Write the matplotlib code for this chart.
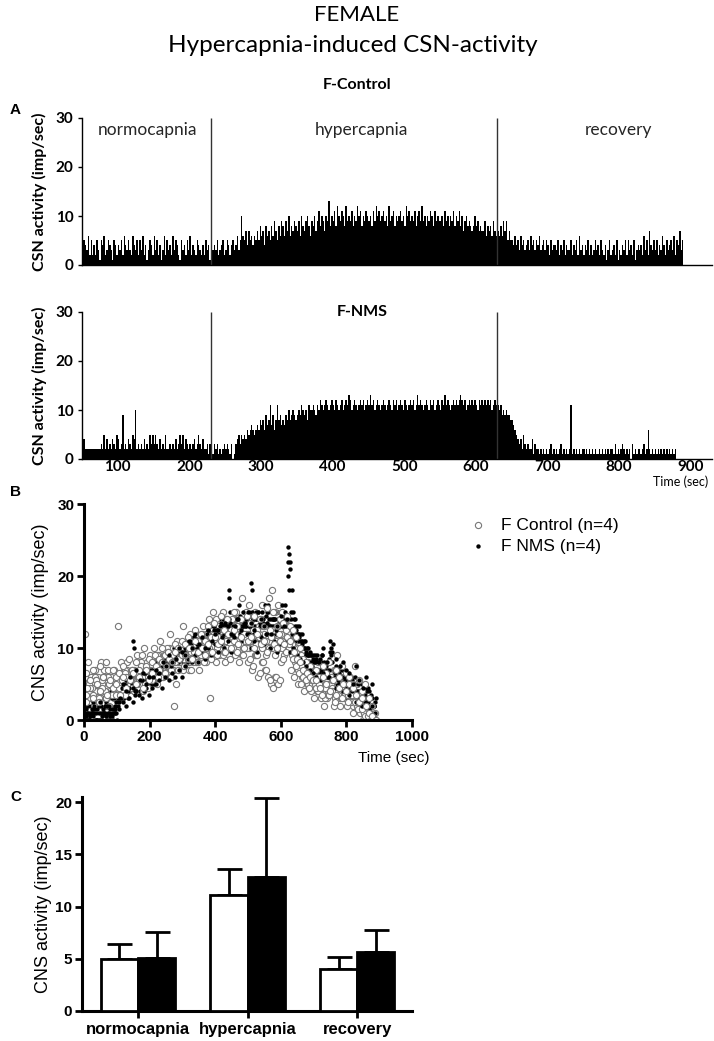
import numpy as np
import matplotlib.pyplot as plt

plt.rcParams['font.family'] = ['Liberation Sans', 'DejaVu Sans']
CAL = ['Lato', 'DejaVu Sans']

# --- panel A: CSN firing histograms, 2 s bins from 50 s, one base-36 digit per bin (imp/sec)
bin_start = 50
bin_width = 2
control_hist = (
    "3543625242 5315462354 3154243526 4353264352 5362413542 6352413625 3426354215 3425362432 5432425341 "
    "2343523452 3542453463 5a65747564 6575867486 7586975869 8697a68798 796a879a86 98a79b8a97 a9d8a9b8ca "
    "9ba8c9a9b8 a9cab8a9ba 9a8b9cab9a b9a8c9ab8a 9ab9a8cab9 a9b8ab9c9a 8a9ba8b9a9 9a8b9a8a9b 8a9b8a79a8 "
    "9878a89787 7968786976 7686979575 5464536453 4536453546 3453542534 4352435243 3524352634 2435242353 "
    "4253241352 3425132435 2534251343 4263527435 3524364253 4536254735"
)
nms_hist = (
    "4422222222 2223252423 2432542392 3243254a23 2324232535 3532423252 2323242353 5243232342 3532422313 "
    "2132312123 2321301345 3545465676 5676878697 8b7968b897 8798a89a98 9a9ba9a8ba aba9bacbab cbabcbacba "
    "bcabcbdcab cbabcbcabc bdbcabcbab cbabcbacbc abcbacbabc bcabdbcbab cbacbcabcb acbdbcbabc bcbcdcbcab "
    "cbcbcbacbc bcbcbcabcb bab9a9a998 8765434253 2322413221 2121212312 1212312121 2b12121212 2121212121 "
    "1212121212 2131212321 2120312122 1231262121 2121212121 21212"
)
phase_bounds = [230, 630]
phase_names = ['normocapnia', 'hypercapnia', 'recovery']
phase_label_x = [141, 441, 800]
hist_ticks = [100, 200, 300, 400, 500, 600, 700, 800, 900]

# --- panel B: traces sampled every 10 s; value = index in SCAT_KEY / 2
SCAT_KEY = '0123456789abcdefghijklmnopqrstuvwxyzABCDEFGHIJKLMNOPQRSTUVWXYZ'
sample_step = 10
control_traces = [
    "8a6c8ae68a ac8eacagce egciegkeig ikgmkiokmo mokqmosoqm oqmosoqmoq oqsmkigecc cac8a8a868 684642000",
    "46a48684a6 86a8c8ac8a acaecgceag egeigeigki gikgikigik geicgecaca gikecaa8a8 6864684646 462420000",
    "cgceagcece qgegceigkg ikimikokmk qmokomqosu squsosuqyu wsuqwsyAuw usqomkigge egceaceiac ac8a68420",
    "o8a8ca8ca8 caeac8caec cegceig4gi kimgkmko6m mkomqkomko kmiokimkik kmoigeccaa a8a68a68c8 866442000",
    "7a9c6b8a79 b8dbeadfbc cgfhejegil hkjljmkmio kniplqmlon mplnqmkpmo mpkljhfdcb bc9a79b797 757532100",
    "5a7b5964a7 9b7c9dbca9 bdcfdhcgei fhejgigkhj iljkhmjlik hfidgeb9cb hjlhfdcb9b 9a79785969 575331100",
    "d9ebfcgaec dfchegeifh gihkijilkm lnkpmomqnr ntpspuqsot rtpsqvpuqs rtqpnkhgfd ecfdgbecfd cafb8a642",
    "9b6a8c7b9a 7c9bdac9eb dfegfhgjhi ikhmjkiljn lmjokplnkm nkolmjnlkm lnmjhgedcb b9ca8b79a8 a97564210",
]
nms_traces = [
    "2042062402 686a8ma8ca ceaegcgieg ikimkomkom oqosAqsoqu sCqusqusqs uqMsomkigg eceacmca8a 8a6868462",
    "6284a26486 8a8cakcaec ecgeigeiki kmkomkqomq qsoqysowsq uAsquswusu swIuqomkii gegceieca8 a88686644",
    "0420642042 4686a8ca8a acecegiggk gikimkmomo moqosoqsoq qusoqwqouq quEAsoomki igegcgeeca 6a846a864",
    "4026204264 68a8caacac cacgeegkii igmkkomqqo omsquomqus osumsosqos wsAomqmkig geiegkcac8 86a648624",
    "1030415213 5779a7b9ba bdcedgfhgi jlkmlnmomp nqoprqsoqr qsprqtpsqr rtKqomligf edfcegdbcb 9b7a69574",
    "3152031425 79b9d8cbdc egdfhgiijh kmlnkompnq prqsouqtrs tosqruqspr sqGupnkjih hgifhjfdec b9c8a7965",
    "0213021302 3546587697 9ab9cbdcec fhgigjhkil jlkmjnlmko kmjnlokmjl lmjkihgfed cbdacb9a89 785645342",
    "2130524130 6a8c9ebdac cedgfighkj imkolnkpmo pnrqoqspru rpusqrosqt qsIsqomkji ihkgjlhfge dafb9c8a6",
]

# --- panel C: mean + SEM
groups = ['normocapnia', 'hypercapnia', 'recovery']
control_mean = [5.0, 11.1, 4.0]
control_sem = [1.45, 2.55, 1.2]
nms_mean = [5.05, 12.85, 5.65]
nms_sem = [2.55, 7.55, 2.1]


fig = plt.figure(figsize=(7.14, 10.41), dpi=100)
W, H = 714.0, 1041.0


def px_axes(l, t, r, b):
    return fig.add_axes([l / W, 1 - b / H, (r - l) / W, (b - t) / H])


fig.text(357 / W, 1 - 15 / H, 'FEMALE', ha='center', va='center', fontsize=16, family=CAL)
fig.text(353 / W, 1 - 45 / H, 'Hypercapnia-induced CSN-activity', ha='center', va='center',
         fontsize=17.5, family=CAL)
fig.text(357 / W, 1 - 85 / H, 'F-Control', ha='center', va='center', fontsize=11.5,
         fontweight='bold', family=CAL)


def hist_panel(ax, digits):
    h = np.array([int(c, 36) for c in digits.replace(' ', '')])
    edges = bin_start + bin_width * np.arange(len(h) + 1)
    ax.stairs(h, edges, fill=True, color='black', linewidth=0)
    ax.vlines(phase_bounds, 0, 30, color='#333333', lw=1.0)
    ax.set_xlim(50, 930)
    ax.set_ylim(0, 30)
    ax.set_yticks([0, 10, 20, 30])
    for s in ['top', 'right']:
        ax.spines[s].set_visible(False)
    for s in ['left', 'bottom']:
        ax.spines[s].set_linewidth(1.0)
    ax.tick_params(axis='y', length=3, width=1, pad=3)
    ax.set_ylabel('CSN activity (imp/sec)', fontsize=11.5, fontweight='bold', family=CAL)
    ax.yaxis.set_label_coords(-0.056, 0.5)
    for lab in ax.get_yticklabels():
        lab.set_fontfamily(CAL)
        lab.set_fontweight('bold')
        lab.set_fontsize(11)


axA1 = px_axes(82, 118, 712, 265)
hist_panel(axA1, control_hist)
axA1.set_xticks([])
for name, x in zip(phase_names, phase_label_x):
    axA1.text(x, 27.5, name, ha='center', va='center', fontsize=12.5, family=CAL, color='#262626')

axA2 = px_axes(82, 312, 712, 459)
hist_panel(axA2, nms_hist)
axA2.set_xticks(hist_ticks)
axA2.tick_params(axis='x', length=0, pad=1)
for lab in axA2.get_xticklabels():
    lab.set_fontfamily(CAL)
    lab.set_fontweight('bold')
    lab.set_fontsize(11)
axA2.text(441, 30, 'F-NMS', ha='center', va='center', fontsize=11.5, fontweight='bold', family=CAL)
fig.text(708 / W, 1 - 482 / H, 'Time (sec)', ha='right', va='center', fontsize=9, family=CAL)
fig.text(10 / W, 1 - 110 / H, 'A', ha='left', va='center', fontsize=11, fontweight='bold')

# --- panel B: rows of the two groups drawn interleaved so neither hides the other
axB = px_axes(84, 504, 412, 720)
n_rows = len(control_traces)
for k in range(n_rows):
    v = np.array([SCAT_KEY.index(c) / 2 for c in control_traces[k].replace(' ', '')])
    t = sample_step * np.arange(len(v)) + sample_step * k / n_rows
    axB.scatter(t, v, s=20, marker='o', facecolor='white', edgecolor='#777777', linewidth=0.8,
                label='F Control (n=4)' if k == 0 else None, zorder=2 + 2 * k)
    v = np.array([SCAT_KEY.index(c) / 2 for c in nms_traces[k].replace(' ', '')])
    t = sample_step * np.arange(len(v)) + sample_step * (k + 0.5) / n_rows
    axB.scatter(t, v, s=10, marker='o', color='black', linewidth=0,
                label='F NMS (n=4)' if k == 0 else None, zorder=3 + 2 * k)
axB.set_xlim(0, 1000)
axB.set_ylim(0, 30)
axB.set_xticks([0, 200, 400, 600, 800, 1000])
axB.set_yticks([0, 10, 20, 30])
for s in ['top', 'right']:
    axB.spines[s].set_visible(False)
for s in ['left', 'bottom']:
    axB.spines[s].set_linewidth(2.2)
    axB.spines[s].set_zorder(30)
axB.tick_params(length=5, width=2, labelsize=11, pad=2)
for lab in axB.get_xticklabels() + axB.get_yticklabels():
    lab.set_fontweight('bold')
axB.set_ylabel('CNS activity (imp/sec)', fontsize=13)
axB.yaxis.set_label_coords(-0.107, 0.5)
axB.legend(loc='upper left', bbox_to_anchor=(454 / W, 1 - 502 / H), bbox_transform=fig.transFigure,
           frameon=False, fontsize=12.5, handlelength=1.0, handletextpad=0.8, labelspacing=0.35,
           scatterpoints=1)
fig.text(430 / W, 1 - 758 / H, 'Time (sec)', ha='right', va='center', fontsize=11)
fig.text(10 / W, 1 - 492 / H, 'B', ha='left', va='center', fontsize=11, fontweight='bold')

# --- panel C
axC = px_axes(82, 797, 412, 1011)
x = np.arange(len(groups))
bw = 0.34
axC.bar(x - bw / 2, control_mean, bw, color='white', edgecolor='black', linewidth=2, zorder=3)
axC.bar(x + bw / 2, nms_mean, bw, color='black', edgecolor='black', linewidth=2, zorder=3)
axC.errorbar(x - bw / 2, control_mean, yerr=[np.zeros(3), control_sem], fmt='none', ecolor='black',
             elinewidth=2, capsize=9, capthick=2, zorder=2)
axC.errorbar(x + bw / 2, nms_mean, yerr=[np.zeros(3), nms_sem], fmt='none', ecolor='black',
             elinewidth=2, capsize=9, capthick=2, zorder=2)
axC.set_xlim(-0.51, 2.5)
axC.set_ylim(0, 20.5)
axC.set_yticks([0, 5, 10, 15, 20])
axC.set_xticks(x)
axC.set_xticklabels(groups)
for s in ['top', 'right']:
    axC.spines[s].set_visible(False)
for s in ['left', 'bottom']:
    axC.spines[s].set_linewidth(2.2)
axC.tick_params(length=5, width=2, labelsize=11, pad=2)
axC.tick_params(axis='x', labelsize=12, pad=3)
for lab in axC.get_xticklabels() + axC.get_yticklabels():
    lab.set_fontweight('bold')
axC.set_ylabel('CNS activity (imp/sec)', fontsize=13)
axC.yaxis.set_label_coords(-0.091, 0.5)
fig.text(10 / W, 1 - 797 / H, 'C', ha='left', va='center', fontsize=11, fontweight='bold')

fig.savefig('out.png', dpi=100)
